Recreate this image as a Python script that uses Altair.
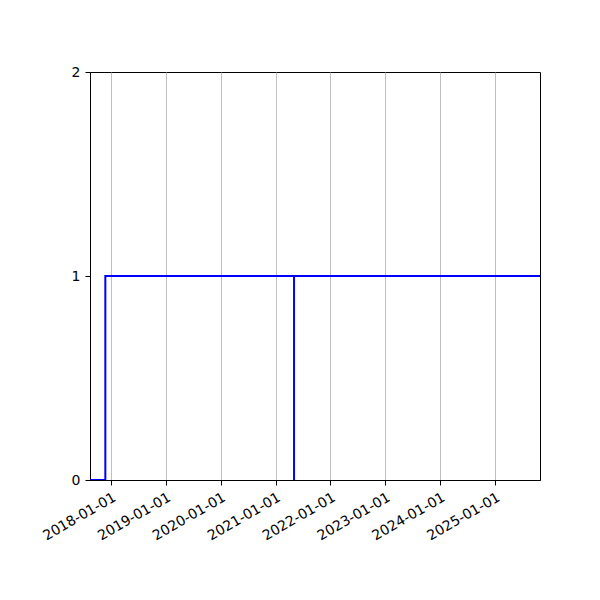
import altair as alt
import pandas as pd

# step line data (dates and values), order of drawing
dates = ["2017-08-15", "2017-11-25", "2017-11-25", "2021-05-04", "2021-05-04", "2021-05-04", "2025-10-27"]
values = [0, 0, 1, 1, 0, 1, 1]
order = list(range(len(dates)))

tick_dates = ["2018-01-01", "2019-01-01", "2020-01-01", "2021-01-01",
              "2022-01-01", "2023-01-01", "2024-01-01", "2025-01-01"]
y_ticks = [0, 1, 2]
x_domain = ["2017-08-15", "2025-10-27"]


def ms(d):
    return int(pd.Timestamp(d, tz="UTC").value // 10**6)


df = pd.DataFrame({"date": [ms(d) for d in dates], "value": values, "order": order})

line = alt.Chart(df).mark_line(color="#0000ff", strokeWidth=2, clip=True).encode(
    x=alt.X("date:T",
            scale=alt.Scale(type="utc", domain=[ms(d) for d in x_domain], nice=False),
            axis=alt.Axis(values=[ms(d) for d in tick_dates],
                          labelExpr="utcFormat(datum.value, '%Y-%m-%d')",
                          labelAngle=-30, labelAlign="right", labelBaseline="top",
                          labelOverlap=False, labelFlush=False,
                          grid=True, gridColor="#b0b0b0", gridWidth=0.8,
                          title=None, labelFontSize=14, labelPadding=5)),
    y=alt.Y("value:Q",
            scale=alt.Scale(domain=[0, 2], nice=False, zero=False),
            axis=alt.Axis(values=y_ticks, labelExpr="format(datum.value, 'd')",
                          labelOverlap=False, labelFlush=False, grid=False, title=None,
                          labelFontSize=14, labelPadding=5)),
    order="order:Q",
)

chart = line.properties(
    width=450, height=408,
    autosize=alt.AutoSizeParams(type="none"),
    padding={"left": 82, "top": 64, "right": 52, "bottom": 104},
).configure_view(
    stroke="black", strokeWidth=1
).configure_axis(
    domainColor="black", tickColor="black", tickSize=5, labelColor="black",
    labelFont="DejaVu Sans", domainWidth=1, tickWidth=1
)

chart.save("out.html", embed_options={"renderer": "svg", "actions": False})
